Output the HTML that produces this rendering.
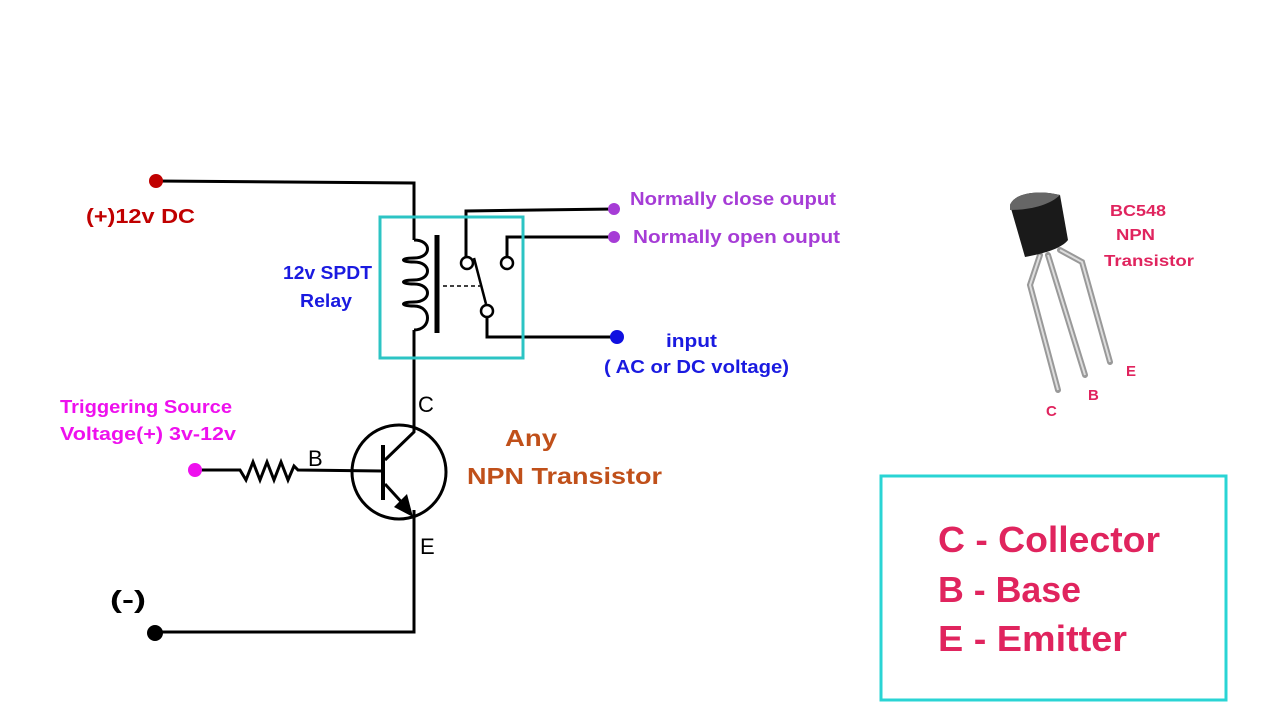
<!DOCTYPE html>
<html><head><meta charset="utf-8"><style>
html,body{margin:0;padding:0;background:#fff;width:1280px;height:720px;overflow:hidden}
svg{display:block}
text{font-family:"Liberation Sans",sans-serif;font-weight:bold}
</style></head><body>
<svg width="1280" height="720" viewBox="0 0 1280 720">
<g stroke="#000" stroke-width="3" fill="none">
<polyline points="156,181 414,183 414,240"/>
<path d="M414,240 C432,240 432,258 414,258 C400,258 400,262 414,262 C432,262 432,280 414,280 C400,280 400,284 414,284 C432,284 432,302 414,302 C400,302 400,306 414,306 C432,306 432,330 414,330"/>
<polyline points="414,330 414,432 385,460"/>
<line x1="437" y1="235" x2="437" y2="333" stroke-width="5"/>
<polyline points="614,209 466,211 466,257"/>
<circle cx="467" cy="263" r="6" stroke-width="2.5"/>
<circle cx="507" cy="263" r="6" stroke-width="2.5"/>
<polyline points="507,257 507,237 614,237"/>
<circle cx="487" cy="311" r="6" stroke-width="2.5"/>
<polyline points="487,317 487,337 617,337"/>
<line x1="474" y1="258" x2="486" y2="304" stroke-width="2.5"/>
<line x1="443" y1="286" x2="480" y2="286" stroke-width="1.5" stroke-dasharray="4,3"/>
<circle cx="399" cy="472" r="47"/>
<line x1="383" y1="445" x2="383" y2="500" stroke-width="4"/>
<polyline points="195,470 240,470 246,480 253,462 260,480 267,462 274,480 281,462 288,480 294,466 298,470 383,471"/>
<line x1="385" y1="484" x2="406" y2="507"/>
<polyline points="414,510 414,632 155,632"/>
</g>
<polygon points="413,517 394,507 407,494" fill="#000"/>
<rect x="380" y="217" width="143" height="141" fill="none" stroke="#2cc4c4" stroke-width="3"/>
<circle cx="156" cy="181" r="7" fill="#c00000"/>
<circle cx="614" cy="209" r="6" fill="#a63cd6"/>
<circle cx="614" cy="237" r="6" fill="#a63cd6"/>
<circle cx="617" cy="337" r="7" fill="#1010e0"/>
<circle cx="195" cy="470" r="7" fill="#ee10ee"/>
<circle cx="155" cy="633" r="8" fill="#000"/>
<g lengthAdjust="spacingAndGlyphs">
<text x="86" y="223" fill="#c00000" font-size="20" textLength="109" lengthAdjust="spacingAndGlyphs">(+)12v DC</text>
<text x="283" y="279" fill="#1a1ae0" font-size="18" textLength="89" lengthAdjust="spacingAndGlyphs">12v SPDT</text>
<text x="300" y="307" fill="#1a1ae0" font-size="18" textLength="52" lengthAdjust="spacingAndGlyphs">Relay</text>
<text x="630" y="205" fill="#a63cd6" font-size="18" textLength="206" lengthAdjust="spacingAndGlyphs">Normally close ouput</text>
<text x="633" y="243" fill="#a63cd6" font-size="18" textLength="207" lengthAdjust="spacingAndGlyphs">Normally open ouput</text>
<text x="666" y="347" fill="#1a1ae0" font-size="18" textLength="51" lengthAdjust="spacingAndGlyphs">input</text>
<text x="604" y="373" fill="#1a1ae0" font-size="18" textLength="185" lengthAdjust="spacingAndGlyphs">( AC or DC voltage)</text>
<text x="60" y="413" fill="#ee10ee" font-size="18" textLength="172" lengthAdjust="spacingAndGlyphs">Triggering Source</text>
<text x="60" y="440" fill="#ee10ee" font-size="18" textLength="176" lengthAdjust="spacingAndGlyphs">Voltage(+) 3v-12v</text>
<text x="418" y="412" fill="#000" font-size="22" style="font-weight:normal">C</text>
<text x="308" y="466" fill="#000" font-size="22" style="font-weight:normal">B</text>
<text x="420" y="554" fill="#000" font-size="22" style="font-weight:normal">E</text>
<text x="505" y="446" fill="#c0501a" font-size="23" textLength="52" lengthAdjust="spacingAndGlyphs">Any</text>
<text x="467" y="484" fill="#c0501a" font-size="23" textLength="195" lengthAdjust="spacingAndGlyphs">NPN Transistor</text>
<text x="110" y="608" fill="#000" font-size="25" textLength="36" lengthAdjust="spacingAndGlyphs">(-)</text>
</g>
<!-- BC548 -->
<g stroke="#999" stroke-width="6" fill="none" stroke-linecap="round">
<polyline points="1040,255 1030,285 1058,390"/>
<polyline points="1048,255 1085,375"/>
<polyline points="1060,250 1082,262 1110,362"/>
</g>
<g stroke="#ddd" stroke-width="2" fill="none">
<polyline points="1040,255 1030,285 1058,390"/>
<polyline points="1048,255 1085,375"/>
<polyline points="1060,250 1082,262 1110,362"/>
</g>
<path d="M1010,205 C1015,192 1040,190 1060,195 L1068,240 C1060,250 1040,254 1025,257 Z" fill="#1a1a1a"/>
<path d="M1010,205 C1015,192 1040,190 1060,195 C1050,205 1030,210 1010,210 Z" fill="#666"/>
<text x="1110" y="216" fill="#e0245e" font-size="16" textLength="56" lengthAdjust="spacingAndGlyphs">BC548</text>
<text x="1116" y="240" fill="#e0245e" font-size="16" textLength="39" lengthAdjust="spacingAndGlyphs">NPN</text>
<text x="1104" y="266" fill="#e0245e" font-size="16" textLength="90" lengthAdjust="spacingAndGlyphs">Transistor</text>
<text x="1126" y="376" fill="#e0245e" font-size="15">E</text>
<text x="1088" y="400" fill="#e0245e" font-size="15">B</text>
<text x="1046" y="416" fill="#e0245e" font-size="15">C</text>
<rect x="881" y="476" width="345" height="224" fill="none" stroke="#2ad4d4" stroke-width="3"/>
<text x="938" y="552" fill="#e0245e" font-size="36" textLength="222" lengthAdjust="spacingAndGlyphs">C - Collector</text>
<text x="938" y="602" fill="#e0245e" font-size="36" textLength="143" lengthAdjust="spacingAndGlyphs">B - Base</text>
<text x="938" y="651" fill="#e0245e" font-size="36" textLength="189" lengthAdjust="spacingAndGlyphs">E - Emitter</text>
</svg>
</body></html>
